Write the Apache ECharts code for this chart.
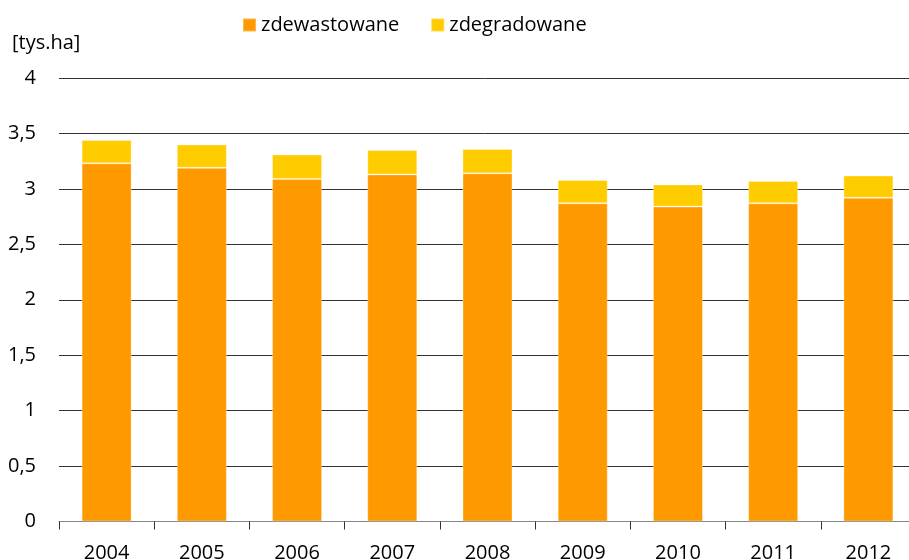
<!DOCTYPE html>
<html>
<head>
<meta charset="utf-8">
<script src="https://cdn.jsdelivr.net/npm/echarts@6/dist/echarts.min.js"></script>
<style>
html,body{margin:0;padding:0;background:#fff;}
#chart{width:909px;height:560px;}
</style>
</head>
<body>
<div id="chart"></div>
<script>
const categories = ['2004','2005','2006','2007','2008','2009','2010','2011','2012'];
const zdewastowane = [3.23, 3.19, 3.09, 3.13, 3.14, 2.87, 2.84, 2.87, 2.92];
const zdegradowane = [0.21, 0.21, 0.22, 0.22, 0.22, 0.21, 0.20, 0.20, 0.20];
const seriesNames = ['zdewastowane', 'zdegradowane'];
const unitLabel = '[tys.ha]';

const FONT = '"Open Sans", "DejaVu Sans", sans-serif';
const chart = echarts.init(document.getElementById('chart'), null, {renderer: 'canvas'});
chart.setOption({
  animation: false,
  backgroundColor: '#ffffff',
  textStyle: {fontFamily: FONT},
  legend: {
    left: 242, top: 15, padding: 0,
    itemWidth: 13, itemHeight: 13, itemGap: 31,
    icon: 'rect',
    textStyle: {fontFamily: FONT, fontSize: 20, color: '#000'},
    data: seriesNames
  },
  graphic: [{
    type: 'text', left: 12, top: 33,
    style: {text: unitLabel, fontFamily: FONT, fontSize: 20, fill: '#000'}
  }],
  grid: {left: 59, right: -7, top: 78, bottom: 38.5, containLabel: false, outerBoundsMode: 'none'},
  xAxis: {
    type: 'category',
    data: categories,
    axisLine: {lineStyle: {color: '#868686', width: 1}},
    axisTick: {show: true, length: 8, lineStyle: {color: '#333'}},
    axisLabel: {fontFamily: FONT, fontSize: 20, color: '#000', margin: 22}
  },
  yAxis: {
    type: 'value', min: 0, max: 4, interval: 0.5,
    axisLine: {show: false},
    axisTick: {show: false},
    splitLine: {lineStyle: {color: '#333', width: 1}},
    axisLabel: {
      fontFamily: FONT, fontSize: 20, color: '#000', margin: 23,
      formatter: v => String(v).replace('.', ',')
    }
  },
  series: [
    {
      name: seriesNames[0], type: 'bar', stack: 'a', barWidth: 50,
      data: zdewastowane,
      itemStyle: {color: '#FF9900', borderColor: 'rgba(255,255,255,0.3)', borderWidth: 1}
    },
    {
      name: seriesNames[1], type: 'bar', stack: 'a', barWidth: 50,
      data: zdegradowane,
      itemStyle: {color: '#FFCC00', borderColor: 'rgba(255,255,255,0.3)', borderWidth: 1}
    }
  ]
});
</script>
</body>
</html>
